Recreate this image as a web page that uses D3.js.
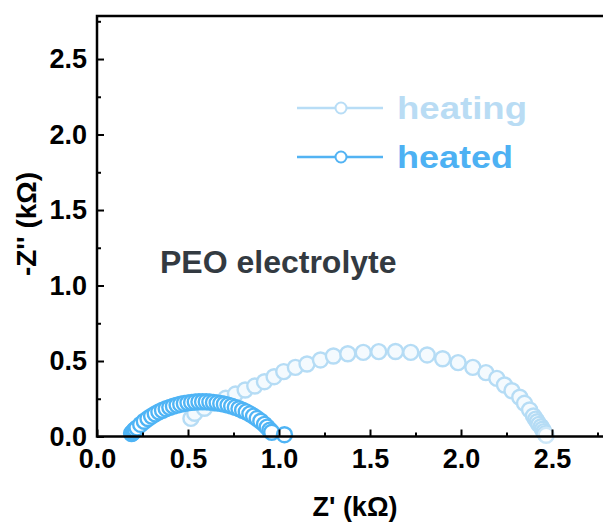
<!DOCTYPE html>
<html>
<head>
<meta charset="utf-8">
<script src="https://cdn.jsdelivr.net/npm/d3@7"></script>
<style>
  body { margin: 0; background: #fff; }
  svg { display: block; overflow: hidden; }
  text { font-family: Arial, "Liberation Sans", sans-serif; font-weight: bold; }
</style>
</head>
<body>
<svg></svg>
<script>
// Z' (kOhm) / -Z'' (kOhm)
var heatingRe = [0.516, 0.537, 0.59, 0.644, 0.707, 0.761, 0.814, 0.867, 0.92, 0.973, 1.026, 1.09, 1.154, 1.228, 1.299,
  1.378, 1.463, 1.548, 1.64, 1.724, 1.814, 1.899, 1.984, 2.065, 2.137, 2.197, 2.239, 2.28, 2.323, 2.349,
  2.377, 2.398, 2.41, 2.419, 2.428, 2.44, 2.448, 2.455, 2.462];
var heatingIm = [0.12, 0.154, 0.187, 0.22, 0.253, 0.281, 0.308, 0.334, 0.363, 0.396, 0.43, 0.458, 0.48, 0.507, 0.533,
  0.548, 0.557, 0.562, 0.563, 0.557, 0.54, 0.515, 0.489, 0.458, 0.423, 0.385, 0.341, 0.303, 0.26, 0.22,
  0.176, 0.136, 0.115, 0.098, 0.08, 0.065, 0.048, 0.032, 0.018];

var heatedRe = [0.19, 0.195, 0.2, 0.205, 0.21, 0.22, 0.24, 0.26, 0.28, 0.3, 0.32, 0.34, 0.36, 0.38, 0.4, 0.42,
  0.44, 0.46, 0.48, 0.5, 0.52, 0.54, 0.56, 0.58, 0.6, 0.62, 0.64, 0.66, 0.68, 0.7, 0.72, 0.74,
  0.76, 0.78, 0.8, 0.82, 0.84, 0.86, 0.88, 0.9, 0.92, 0.935, 0.95, 0.96];
var heatedIm = [0.02, 0.024, 0.03, 0.04, 0.046, 0.057, 0.08, 0.101, 0.119, 0.135, 0.15, 0.163, 0.174, 0.184, 0.193, 0.201,
  0.208, 0.214, 0.219, 0.223, 0.226, 0.228, 0.23, 0.23, 0.23, 0.228, 0.226, 0.223, 0.219, 0.214, 0.208, 0.201,
  0.193, 0.184, 0.174, 0.163, 0.15, 0.135, 0.119, 0.101, 0.08, 0.062, 0.042, 0.028];

// last points sitting on the axis
var heatingEnd = [2.468, 0.008];
var heatedEnd = [1.03, 0.012];

var xTicks = [0, 0.5, 1.0, 1.5, 2.0, 2.5];
var yTicks = [0, 0.5, 1.0, 1.5, 2.0, 2.5];
var seriesNames = ["heating", "heated"];

var margin = { top: 16, left: 97 },
  W = 603, H = 524,
  width = 2.8 * 182,
  height = 436.5 - 16;

var x = d3.scaleLinear().domain([0, 2.8]).range([0, width]);
var y = d3.scaleLinear().domain([0, 2.785]).range([height, 0]);

var svg = d3.select("svg").attr("width", W).attr("height", H);
var g = svg.append("g")
  .attr("transform", "translate(" + margin.left + "," + margin.top + ")");

// heating (light) first, heated on top
function drawSeries(re, im, stroke, fill) {
  g.append("g").selectAll("circle")
    .data(re.map(function(d, i) { return [d, im[i]]; }))
    .enter().append("circle")
    .attr("cx", function(d) { return x(d[0]); })
    .attr("cy", function(d) { return y(d[1]); })
    .attr("r", 7.5)
    .attr("fill", fill)
    .attr("stroke", stroke)
    .attr("stroke-width", 2.4);
}
drawSeries(heatingRe, heatingIm, "#b5dcf5", "#f4fafe");
drawSeries([heatingEnd[0]], [heatingEnd[1]], "#cde7f8", "#ffffff");
drawSeries(heatedRe, heatedIm, "#4fb4f5", "#ffffff");
drawSeries([heatedEnd[0]], [heatedEnd[1]], "#4fb4f5", "#ffffff");

// axes with inward ticks
var xMinor = d3.range(0.25, 2.8, 0.5);
var yMinor = d3.range(0.25, 2.8, 0.5);

var xAxis = g.append("g")
  .attr("transform", "translate(0," + height + ")")
  .call(d3.axisBottom(x).tickValues(xTicks).tickSize(-7).tickPadding(12)
    .tickFormat(d3.format(".1f")));
g.append("g")
  .attr("transform", "translate(0," + height + ")")
  .call(d3.axisBottom(x).tickValues(xMinor).tickSize(-4).tickFormat(""));

var yAxis = g.append("g")
  .call(d3.axisLeft(y).tickValues(yTicks).tickSize(-7).tickPadding(10)
    .tickFormat(d3.format(".1f")));
g.append("g")
  .call(d3.axisLeft(y).tickValues(yMinor).tickSize(-4).tickFormat(""));

g.selectAll(".domain").remove();
g.selectAll(".tick line").attr("stroke", "#000").attr("stroke-width", 2);
g.selectAll(".tick text").attr("fill", "#000").attr("font-size", 27);
xAxis.selectAll(".tick text").attr("dy", "0.72em");

// frame: left, bottom, top
g.append("path")
  .attr("d", "M" + width + ",0H0V" + height + "H" + width)
  .attr("fill", "none")
  .attr("stroke", "#000")
  .attr("stroke-width", 2.5);

// axis titles
svg.append("text")
  .attr("x", 355).attr("y", 516)
  .attr("text-anchor", "middle")
  .attr("font-size", 27)
  .attr("fill", "#000")
  .text("Z' (k\u03A9)");
svg.append("text")
  .attr("transform", "translate(36,224) rotate(-90)")
  .attr("text-anchor", "middle")
  .attr("font-size", 28)
  .attr("fill", "#000")
  .text("-Z'' (k\u03A9)");

// annotation
svg.append("text")
  .attr("x", 160).attr("y", 273)
  .attr("font-size", 32)
  .attr("fill", "#333a41")
  .text("PEO electrolyte");

// legend
var legendColors = ["#b8ddf6", "#52b3f3"];
var legendText = ["#b9dcf4", "#4db1f3"];
var legendWidth = [130, 116];
var legend = svg.append("g").selectAll("g")
  .data(seriesNames)
  .enter().append("g")
  .attr("transform", function(d, i) { return "translate(297," + (108 + i * 49) + ")"; });
legend.append("line")
  .attr("x1", 0).attr("x2", 86)
  .attr("stroke", function(d, i) { return legendColors[i]; })
  .attr("stroke-width", 2.5);
legend.append("circle")
  .attr("cx", 44).attr("r", 5.5)
  .attr("fill", "#fff")
  .attr("stroke", function(d, i) { return legendColors[i]; })
  .attr("stroke-width", 2);
legend.append("text")
  .attr("x", 100).attr("y", 11)
  .attr("font-size", 31)
  .attr("textLength", function(d, i) { return legendWidth[i]; })
  .attr("lengthAdjust", "spacingAndGlyphs")
  .attr("fill", function(d, i) { return legendText[i]; })
  .text(function(d) { return d; });
</script>
</body>
</html>
